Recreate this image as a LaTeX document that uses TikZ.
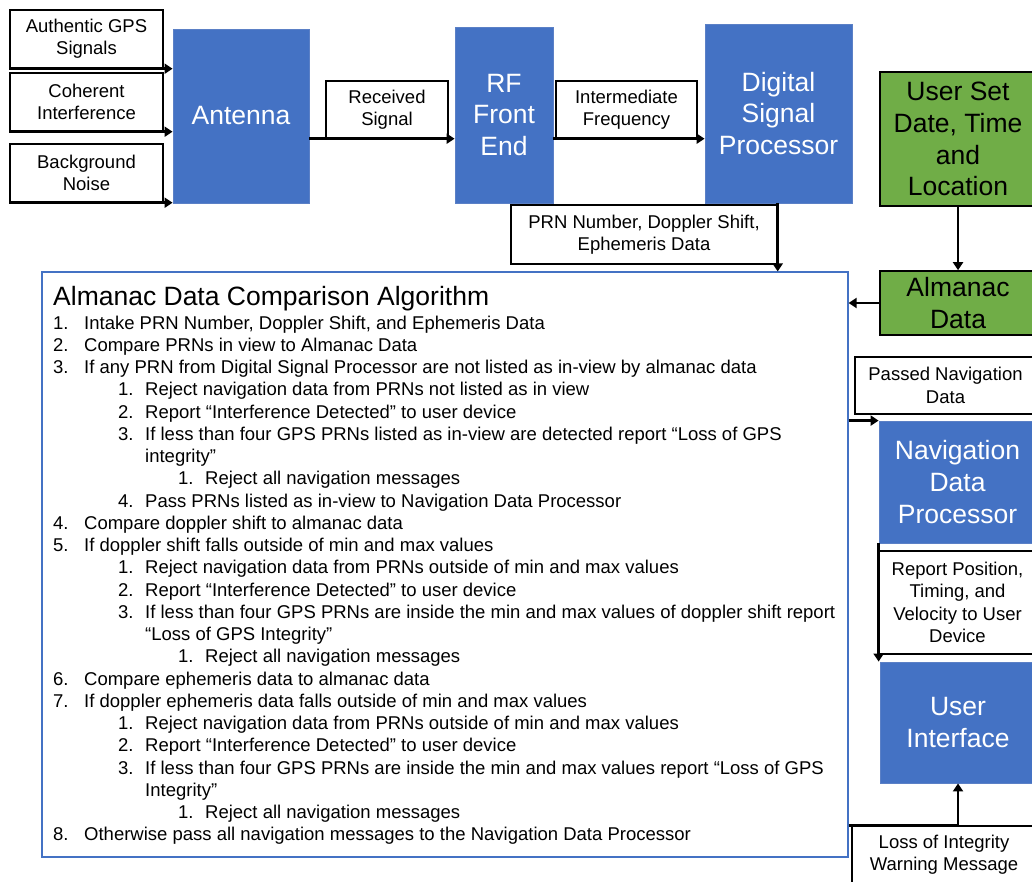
\documentclass[tikz,border=0pt]{standalone}
\usepackage{fontspec}
\setmainfont{Liberation Sans}
\usetikzlibrary{arrows.meta}

\definecolor{boxblue}{HTML}{4472C4}
\definecolor{boxedge}{HTML}{5B80C6}
\definecolor{boxgreen}{HTML}{70AD47}

\tikzset{
  bigfont/.style={font=\fontsize{26.5}{31.8}\selectfont},
  smallfont/.style={font=\fontsize{18.5}{22.3}\selectfont},
  sz/.style 2 args={minimum width=#1pt, minimum height=#2pt},
  blk/.style={draw=boxedge, line width=0.8pt, fill=boxblue, text=white,
              bigfont, align=center, inner sep=0pt},
  grn/.style={draw=black, line width=1.6pt, fill=boxgreen, text=black,
              bigfont, align=center, inner sep=0pt},
  lbl/.style={draw=black, line width=1.4pt, fill=white, text=black,
              smallfont, align=center, inner sep=0pt,
              execute at begin node=\rule{0pt}{17.5pt}},
  algframe/.style={draw=boxblue, line width=1.2pt, inner sep=0pt},
  algtext/.style={smallfont, inner sep=0pt, anchor=base west},
  flow/.style={line width=2.9pt, -{Triangle[length=8pt,width=10pt]}},
}

% one line of the algorithm list: index, number x, number width, number, text
\newcommand\algline[5]{%
  \node[algtext] (alg-#1) at (#2, {329+(#1-1)*22.26}) {\makebox[#3pt][l]{#4}#5};}

\begin{document}
\begin{tikzpicture}[x=1pt, y=-1pt]
\clip (0,0) rectangle (1032,881);

% signal sources
\node[lbl, sz={153}{58}] (gps)   at (86.5,39)  {Authentic GPS\\Signals};
\node[lbl, sz={153}{58}] (coh)   at (86.5,102) {Coherent\\Interference};
\node[lbl, sz={153}{58}] (noise) at (86.5,173) {Background\\Noise};

% receiver chain
\node[blk, sz={136}{174}] (ant) at (241,116)   {Antenna};
\node[lbl, sz={122}{57}]  (recv) at (387,109.5) {Received\\Signal};
\node[blk, sz={98}{176}]  (rf)  at (504,115)   {RF\\Front\\End};
\node[lbl, sz={141}{57}]  (ifreq) at (626.5,109.5) {Intermediate\\Frequency};
\node[blk, sz={147}{179}] (dsp) at (778.5,113.5) {Digital\\Signal\\Processor};
\node[lbl, sz={266}{59}]  (prn) at (644,234.5) {PRN Number, Doppler Shift,\\Ephemeris Data};

% almanac source
\node[grn, sz={156}{134}] (user) at (958,139) {User Set\\Date, Time\\and\\Location};
\node[grn, sz={156}{64}]  (alm)  at (958,303) {Almanac\\Data};

% navigation side
\node[lbl, sz={181}{57}]  (passed) at (945.5,385.5) {Passed Navigation\\Data};
\node[blk, sz={157}{122}] (ndp) at (957.5,482) {Navigation\\Data\\Processor};
\node[lbl, sz={157}{103}] (report) at (957.5,602.5) {Report Position,\\Timing, and\\Velocity to User\\Device};
\node[blk, sz={156}{121}] (ui) at (958,722.5) {User\\Interface};
\node[lbl, sz={184}{58}]  (loss) at (944,855) {Loss of Integrity\\Warning Message};

% algorithm panel
\node[algframe, sz={806}{585}] (alg) at (445,564.5) {};
\node[font=\fontsize{26.5}{31.8}\selectfont, inner sep=0pt, anchor=base west]
  (algtitle) at (53,305) {Almanac Data Comparison Algorithm};

\algline{1}{53}{31}{1.}{Intake PRN Number, Doppler Shift, and Ephemeris Data}
\algline{2}{53}{31}{2.}{Compare PRNs in view to Almanac Data}
\algline{3}{53}{31}{3.}{If any PRN from Digital Signal Processor are not listed as in-view by almanac data}
\algline{4}{118}{27}{1.}{Reject navigation data from PRNs not listed as in view}
\algline{5}{118}{27}{2.}{Report “Interference Detected” to user device}
\algline{6}{118}{27}{3.}{If less than four GPS PRNs listed as in-view are detected report “Loss of GPS}
\algline{7}{145}{0}{}{integrity”}
\algline{8}{178}{27}{1.}{Reject all navigation messages}
\algline{9}{118}{27}{4.}{Pass PRNs listed as in-view to Navigation Data Processor}
\algline{10}{53}{31}{4.}{Compare doppler shift to almanac data}
\algline{11}{53}{31}{5.}{If doppler shift falls outside of min and max values}
\algline{12}{118}{27}{1.}{Reject navigation data from PRNs outside of min and max values}
\algline{13}{118}{27}{2.}{Report “Interference Detected” to user device}
\algline{14}{118}{27}{3.}{If less than four GPS PRNs are inside the min and max values of doppler shift report}
\algline{15}{145}{0}{}{“Loss of GPS Integrity”}
\algline{16}{178}{27}{1.}{Reject all navigation messages}
\algline{17}{53}{31}{6.}{Compare ephemeris data to almanac data}
\algline{18}{53}{31}{7.}{If doppler ephemeris data falls outside of min and max values}
\algline{19}{118}{27}{1.}{Reject navigation data from PRNs outside of min and max values}
\algline{20}{118}{27}{2.}{Report “Interference Detected” to user device}
\algline{21}{118}{27}{3.}{If less than four GPS PRNs are inside the min and max values report “Loss of GPS}
\algline{22}{145}{0}{}{Integrity”}
\algline{23}{178}{27}{1.}{Reject all navigation messages}
\algline{24}{53}{31}{8.}{Otherwise pass all navigation messages to the Navigation Data Processor}

% connectors
\draw[flow] (gps.south west)   -- (ant.west |- gps.south);
\draw[flow] (coh.south west)   -- (ant.west |- coh.south);
\draw[flow] (noise.south west) -- (ant.west |- noise.south);
\draw[flow] (ant.east |- recv.south) -- (rf.west |- recv.south);
\draw[flow] (rf.east |- ifreq.south) -- (dsp.west |- ifreq.south);
\draw[flow] (prn.east |- dsp.south) -- (prn.east |- alg.north);
\draw[flow] (user.south) -- (alm.north);
\draw[flow] (alm.west) -- (alg.east |- alm.west);
\draw[flow] (alg.east |- ndp.north west) -- (ndp.north west);
\draw[flow] (ndp.south west) -- (ndp.south west |- ui.north);
\draw[flow] (alg.east |- loss.north) -| (ui.south);
\end{tikzpicture}
\end{document}
